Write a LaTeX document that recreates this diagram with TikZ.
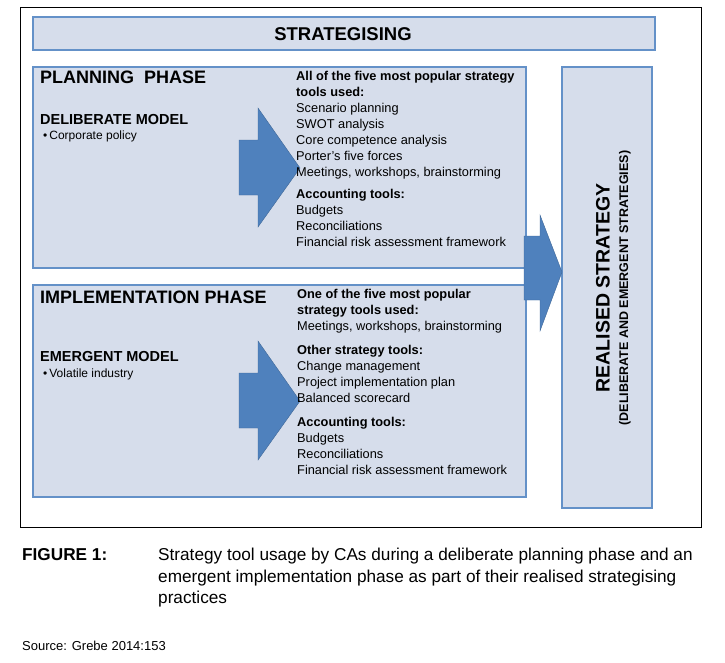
\documentclass[tikz,border=0pt]{standalone}
\usepackage{fontspec}
\setmainfont{Liberation Sans}
\usepackage{tikz}
\definecolor{boxfill}{RGB}{214,221,235}
\definecolor{boxline}{RGB}{100,145,200}
\definecolor{arrowblue}{RGB}{79,129,189}
\begin{document}
\begin{tikzpicture}[x=1pt,y=-1pt,
  box/.style={draw=boxline,line width=2pt,fill=boxfill},
  bigarrow/.style={fill=arrowblue,draw=arrowblue!80!black,line width=0.4pt},
  txt/.style={anchor=north west,inner sep=0pt,align=left,font=\fontsize{12.8}{16}\selectfont}]
\useasboundingbox (0,0) rectangle (725,662);
\draw[line width=0.8pt] (20,7) rectangle (701,527);
% boxes
\draw[box] (33,17) rectangle (655,50);
\node[font=\fontsize{18.5}{20}\selectfont\bfseries] (strat) at (343,34) {STRATEGISING};
\draw[box] (33,67) rectangle (526,268);
\draw[box] (33,285) rectangle (526,497);
\draw[box] (562,67) rectangle (652,508);
% arrows
\draw[bigarrow] (239,140) -- (258,140) -- (258,108) -- (300,168) -- (258,227) -- (258,195) -- (239,195) -- cycle;
\draw[bigarrow] (239,373) -- (258,373) -- (258,341) -- (300,401) -- (258,460) -- (258,428) -- (239,428) -- cycle;
\draw[bigarrow] (524,236) -- (540,236) -- (540,215) -- (562,272) -- (540,331) -- (540,300) -- (524,300) -- cycle;
% planning
\node[txt,font=\fontsize{18}{20}\selectfont\bfseries] (plan) at (40,71) {PLANNING~~PHASE};
\node[txt,font=\fontsize{14.5}{16}\selectfont\bfseries] (delib) at (40,114) {DELIBERATE MODEL};
\node[txt,font=\fontsize{12}{14}\selectfont] (corp) at (43,131) {\textbullet\,Corporate policy};
\node[txt] (plantools) at (296,71) {\textbf{All of the five most popular strategy}\\
\textbf{tools used:}\\Scenario planning\\SWOT analysis\\Core competence analysis\\Porter’s five forces\\Meetings, workshops, brainstorming\\[6pt]
\textbf{Accounting tools:}\\Budgets\\Reconciliations\\Financial risk assessment framework};
% implementation
\node[txt,font=\fontsize{18}{20}\selectfont\bfseries] (impl) at (40,291) {IMPLEMENTATION PHASE};
\node[txt,font=\fontsize{14.5}{16}\selectfont\bfseries] (emerg) at (40,351) {EMERGENT MODEL};
\node[txt,font=\fontsize{12}{14}\selectfont] (vol) at (43,369) {\textbullet\,Volatile industry};
\node[txt] (impltools) at (297,289) {\textbf{One of the five most popular}\\
\textbf{strategy tools used:}\\Meetings, workshops, brainstorming\\[8pt]
\textbf{Other strategy tools:}\\Change management\\Project implementation plan\\Balanced scorecard\\[8pt]
\textbf{Accounting tools:}\\Budgets\\Reconciliations\\Financial risk assessment framework};
% realised
\node[rotate=90,font=\fontsize{19.5}{21}\selectfont\bfseries] (real) at (603,288) {REALISED STRATEGY};
\node[rotate=90,font=\fontsize{12.5}{14}\selectfont\bfseries] (realsub) at (625,288) {(DELIBERATE AND EMERGENT STRATEGIES)};
% caption
\node[txt,font=\fontsize{17.2}{21.5}\selectfont\bfseries] (fig) at (22,548) {FIGURE 1:};
\node[txt,font=\fontsize{17.2}{21.5}\selectfont] (cap) at (158,548) {Strategy tool usage by CAs during a deliberate planning phase and an\\emergent implementation phase as part of their realised strategising\\practices};
\node[txt,font=\fontsize{13}{14}\selectfont] (src) at (22,641) {Source: Grebe 2014:153};
\end{tikzpicture}
\end{document}
